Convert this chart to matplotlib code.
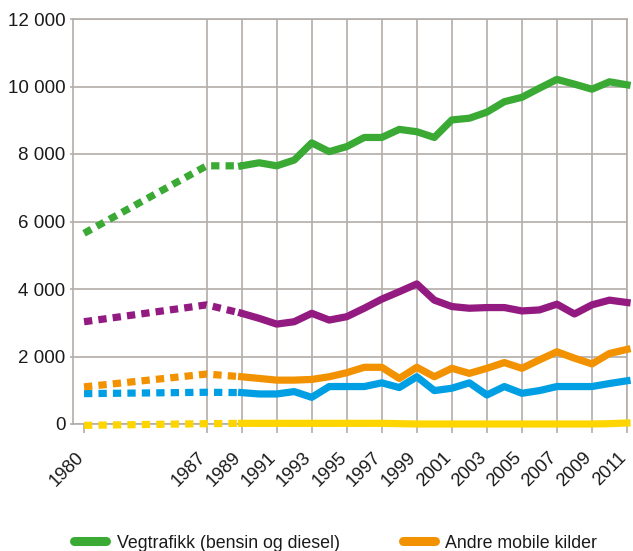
import matplotlib
matplotlib.use("Agg")
import matplotlib.pyplot as plt
from matplotlib.lines import Line2D
from matplotlib.ticker import FuncFormatter
import matplotlib.transforms as mtransforms

# ---------------- data ----------------
years_early = [1980, 1987, 1989]          # dotted (estimated) segment
years = list(range(1989, 2012))            # solid segment

veg_early = [5650, 7650, 7650]
veg = [7650, 7740, 7650, 7820, 8330, 8070, 8220, 8490, 8490, 8730, 8660, 8490,
       9010, 9060, 9240, 9550, 9680, 9950, 10210, 10070, 9920, 10140, 10050]

purple_early = [3030, 3530, 3280]
purple = [3280, 3130, 2960, 3030, 3280, 3080, 3180, 3430, 3700, 3920, 4150, 3670,
          3480, 3430, 3450, 3450, 3350, 3380, 3550, 3260, 3530, 3670, 3600]

andre_early = [1100, 1480, 1400]
andre = [1400, 1350, 1300, 1300, 1320, 1400, 1520, 1680, 1680, 1350, 1680, 1400,
         1650, 1500, 1650, 1820, 1650, 1900, 2140, 1950, 1780, 2090, 2210]

blue_early = [900, 940, 930]
blue = [930, 890, 890, 960, 790, 1110, 1110, 1110, 1220, 1080, 1400, 990,
        1060, 1220, 860, 1110, 910, 990, 1110, 1110, 1110, 1200, 1280]

yellow_early = [-40, 10, 20]
yellow = [20, 20, 20, 20, 20, 20, 20, 20, 20, 10, 0, 0,
          0, 0, 0, 0, 0, 0, 0, 0, 0, 10, 30]

xtick_years = [1980, 1987, 1989, 1991, 1993, 1995, 1997, 1999, 2001, 2003,
               2005, 2007, 2009, 2011]
ytick_vals = [0, 2000, 4000, 6000, 8000, 10000, 12000]

legend_labels = ["Vegtrafikk (bensin og diesel)", "Andre mobile kilder"]

# ---------------- style ----------------
GREEN = "#3aaa35"
PURPLE = "#931a80"
ORANGE = "#f39200"
BLUE = "#009fe3"
YELLOW = "#ffd500"
GRID = "#b3ada8"
TXT = "#1a1a1a"
FONT = ["Liberation Sans", "DejaVu Sans"]

fig = plt.figure(figsize=(6.33, 5.51), dpi=100)
W, H = 633, 551
ax = fig.add_axes([73 / W, 1 - 424 / H, (627 - 73) / W, (424 - 19) / H])

LW = 5.2
series = [
    (veg_early, veg, GREEN),
    (purple_early, purple, PURPLE),
    (andre_early, andre, ORANGE),
    (blue_early, blue, BLUE),
    (yellow_early, yellow, YELLOW),
]
for early, main, col in reversed(series):
    ax.plot(years_early, early, color=col, lw=LW, linestyle=(0, (1.15, 0.85)),
            dash_capstyle="butt", clip_on=False, zorder=3)
    ax.plot(years, main, color=col, lw=LW, solid_capstyle="projecting",
            solid_joinstyle="round", clip_on=False, zorder=3)

ax.set_xlim(1979.37, 2011)
ax.set_ylim(0, 12000)
ax.set_xticks(xtick_years)
ax.set_yticks(ytick_vals)
ax.yaxis.set_major_formatter(FuncFormatter(lambda v, p: f"{int(v):,}".replace(",", " ")))

ax.grid(True, color=GRID, lw=1.2, zorder=0)
ax.set_axisbelow(True)
ax.get_xgridlines()[0].set_visible(False)
for s in ax.spines.values():
    s.set_color(GRID)
    s.set_linewidth(1.2)

ax.tick_params(axis="x", length=6.5, width=1.2, color=GRID, pad=16, labelsize=13.5,
               labelcolor=TXT)
ax.tick_params(axis="y", length=2, width=1.2, color=GRID, pad=3.5, labelsize=13.5,
               labelcolor=TXT)

for lab in ax.get_yticklabels():
    lab.set_fontfamily(FONT)
offset = mtransforms.ScaledTranslation(-3 / 100, 0, fig.dpi_scale_trans)
for lab in ax.get_xticklabels():
    lab.set_fontfamily(FONT)
    lab.set_fontsize(13.2)
    lab.set_rotation(45)
    lab.set_ha("right")
    lab.set_va("center")
    lab.set_rotation_mode("anchor")
    lab.set_transform(lab.get_transform() + offset)

handles = [
    Line2D([], [], color=GREEN, lw=6.5, solid_capstyle="round"),
    Line2D([], [], color=ORANGE, lw=6.5, solid_capstyle="round"),
]
fig.legend(handles, legend_labels, loc="center left",
           bbox_to_anchor=(74 / W, 1 - 543 / H), ncol=2, frameon=False,
           borderpad=0, borderaxespad=0, handlelength=1.8, handletextpad=0.6,
           columnspacing=3.55,
           prop={"family": FONT, "size": 12.8},
           labelcolor=TXT)

fig.savefig("out.png", dpi=100)
